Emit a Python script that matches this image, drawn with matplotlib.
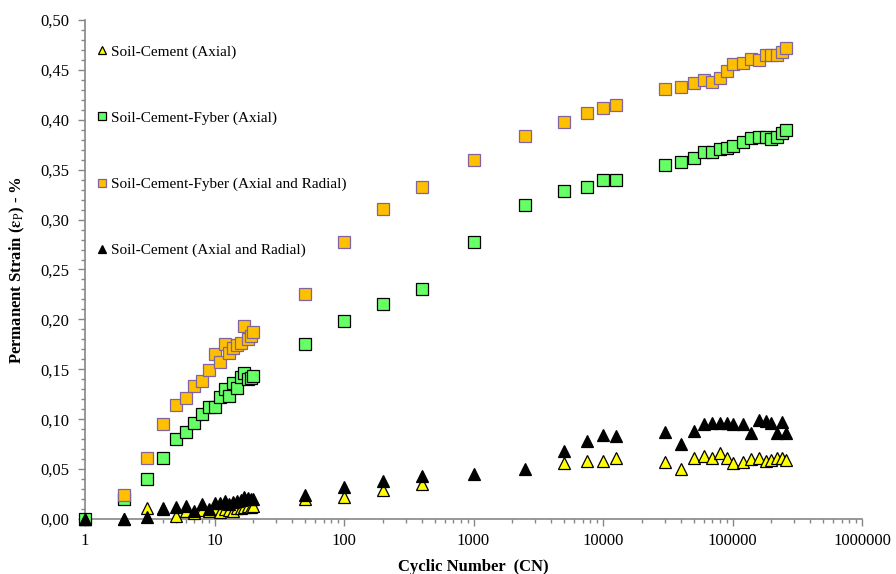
import numpy as np
import matplotlib
matplotlib.use("Agg")
import matplotlib.pyplot as plt
from matplotlib.ticker import FuncFormatter, LogLocator, MultipleLocator, NullFormatter

plt.rcParams["font.family"] = ["Liberation Serif", "DejaVu Serif"]
plt.rcParams["mathtext.fontset"] = "stix"

# cycle numbers
cn_low = [1, 2, 3, 4, 5, 6, 7, 8, 9, 10, 11, 12, 13, 14, 15, 16, 17, 18, 19, 20]
cn_mid = [50, 100, 200, 400, 1000, 2500, 5000, 7500, 10000, 12500]
cn_high = [30000, 40000, 50000, 60000, 70000, 80000, 90000, 100000,
           120000, 140000, 160000, 180000, 200000, 220000, 240000, 260000]
x_ticks = [1, 10, 100, 1000, 10000, 100000, 1000000]

# Soil-Cement (Axial)
sc_ax_x = cn_low + [50, 100, 200, 400, 5000, 7500, 10000, 12500] + cn_high
sc_ax = [0.000, 0.000, 0.011, 0.011, 0.003, 0.008, 0.006, 0.009, 0.008, 0.010,
         0.007, 0.010, 0.009, 0.008, 0.011, 0.011, 0.012, 0.013, 0.012, 0.013,
         0.020, 0.022, 0.029, 0.035, 0.056, 0.058, 0.058, 0.061,
         0.057, 0.050, 0.061, 0.063, 0.061, 0.066, 0.061, 0.056,
         0.057, 0.060, 0.061, 0.058, 0.059, 0.061, 0.061, 0.059]

# Soil-Cement-Fyber (Axial)
scf_ax_x = cn_low + cn_mid + cn_high
scf_ax = [0.000, 0.020, 0.040, 0.061, 0.080, 0.087, 0.096, 0.105, 0.112, 0.112,
          0.122, 0.130, 0.123, 0.136, 0.131, 0.142, 0.146, 0.140, 0.141, 0.143,
          0.175, 0.198, 0.215, 0.230, 0.278, 0.315, 0.329, 0.333, 0.340, 0.340,
          0.355, 0.358, 0.362, 0.368, 0.368, 0.371, 0.372, 0.374,
          0.378, 0.382, 0.383, 0.383, 0.381, 0.383, 0.387, 0.390]

# Soil-Cement-Fyber (Axial and Radial)
scf_ar_x = cn_low[1:] + cn_mid + cn_high
scf_ar = [0.024, 0.061, 0.095, 0.114, 0.121, 0.133, 0.138, 0.149, 0.165,
          0.157, 0.175, 0.166, 0.171, 0.174, 0.176, 0.193, 0.180, 0.183, 0.187,
          0.225, 0.278, 0.311, 0.333, 0.360, 0.384, 0.398, 0.407, 0.412, 0.415,
          0.431, 0.433, 0.437, 0.440, 0.438, 0.442, 0.449, 0.456,
          0.457, 0.461, 0.460, 0.465, 0.465, 0.465, 0.468, 0.472]

# Soil-Cement (Axial and Radial)
sc_ar_x = cn_low + cn_mid + cn_high
sc_ar = [0.000, 0.000, 0.002, 0.010, 0.012, 0.013, 0.008, 0.015, 0.010, 0.016,
         0.016, 0.018, 0.015, 0.017, 0.018, 0.019, 0.022, 0.021, 0.020, 0.020,
         0.024, 0.032, 0.038, 0.043, 0.045, 0.050, 0.068, 0.078, 0.084, 0.083,
         0.087, 0.075, 0.088, 0.095, 0.096, 0.096, 0.096, 0.095,
         0.095, 0.086, 0.099, 0.098, 0.096, 0.086, 0.097, 0.086]

fig = plt.figure(figsize=(8.96, 5.74), dpi=100)
ax = fig.add_axes([85 / 896, 1 - 519 / 574, 777 / 896, 499 / 574])

ms = 8.2
kw = dict(ls="none", ms=ms, mew=0.9, clip_on=False)
ax.plot(sc_ax_x, sc_ax, marker="^", mfc="#FFFF00", mec="black",
        label="Soil-Cement (Axial)", zorder=3, **kw)
ax.plot(scf_ax_x, scf_ax, marker="s", mfc="#66FF66", mec="black",
        label="Soil-Cement-Fyber (Axial)", zorder=4, **kw)
ax.plot(scf_ar_x, scf_ar, marker="s", mfc="#FFC000", mec="#8064A2",
        label="Soil-Cement-Fyber (Axial and Radial)", zorder=5, **kw)
ax.plot(sc_ar_x, sc_ar, marker="^", mfc="black", mec="black",
        label="Soil-Cement (Axial and Radial)", zorder=6, **kw)

ax.set_xscale("log")
ax.set_xticks(x_ticks)
ax.xaxis.set_minor_locator(LogLocator(base=10, subs=np.arange(2, 10), numticks=20))
ax.xaxis.set_major_formatter(FuncFormatter(lambda v, p: f"{int(round(v))}"))
ax.xaxis.set_minor_formatter(NullFormatter())
ax.set_xlim(1, 1e6)
ax.set_ylim(0, 0.5)
ax.yaxis.set_major_locator(MultipleLocator(0.05))
ax.yaxis.set_minor_locator(MultipleLocator(0.01))
ax.yaxis.set_major_formatter(FuncFormatter(lambda v, p: f"{v:.2f}".replace(".", ",")))

for s in ["top", "right"]:
    ax.spines[s].set_visible(False)
for s in ["left", "bottom"]:
    ax.spines[s].set_color("#868686")
    ax.spines[s].set_linewidth(1.2)
    ax.spines[s].set_zorder(2)
ax.tick_params(which="major", direction="out", length=5, width=1, color="#868686",
               labelsize=12, pad=6)
ax.tick_params(which="minor", direction="out", length=3, width=1, color="#868686")
ax.tick_params(axis="x", which="major", pad=5)

ax.set_xlabel("Cyclic Number  (CN)", fontsize=12, fontweight="bold", labelpad=7)
ax.set_ylabel(r"Permanent Strain ($\mathbf{\varepsilon}_{\mathrm{P}}$) - %", fontsize=12,
              fontweight="bold", labelpad=10)

ax.legend(loc="upper left", bbox_to_anchor=(0.016, 0.95), frameon=False, fontsize=11,
          labelspacing=3.42, handlelength=0.6, handletextpad=0.3, markerscale=0.7,
          borderpad=0, borderaxespad=0)

fig.savefig("out.png", dpi=100)
